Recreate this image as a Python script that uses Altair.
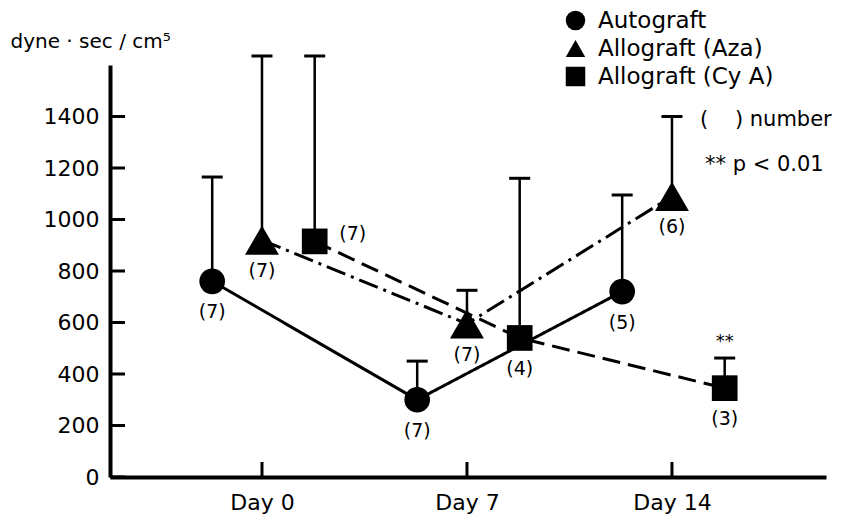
import altair as alt
import pandas as pd

# ---------------- data ----------------
day_ticks = [0, 7, 14]
day_labels = ["Day 0", "Day 7", "Day 14"]
groups = ["Autograft", "Allograft (Aza)", "Allograft (Cy A)"]

auto_mean = [760, 300, 720]
auto_upper = [1165, 450, 1095]
auto_n = ["(7)", "(7)", "(5)"]

aza_mean = [920, 595, 1090]
aza_upper = [1635, 725, 1400]
aza_n = ["(7)", "(7)", "(6)"]

cya_mean = [915, 540, 345]
cya_upper = [1635, 1160, 462]
cya_n = ["(7)", "(4)", "(3)"]

y_ticks = [0, 200, 400, 600, 800, 1000, 1200, 1400]

# horizontal shift of each group around the day tick (in day units)
group_shift = {"Autograft": -1.7, "Allograft (Aza)": 0.0, "Allograft (Cy A)": 1.8}
group_dash = {"Autograft": [1, 0], "Allograft (Aza)": [20, 6, 3, 6], "Allograft (Cy A)": [18, 8]}

rows = []
for g, means, uppers, ns in [
    ("Autograft", auto_mean, auto_upper, auto_n),
    ("Allograft (Aza)", aza_mean, aza_upper, aza_n),
    ("Allograft (Cy A)", cya_mean, cya_upper, cya_n),
]:
    for d, m, u, n in zip(day_ticks, means, uppers, ns):
        rows.append({"group": g, "day": d, "xpos": d + group_shift[g],
                     "mean": m, "upper": u, "n": n,
                     "side": "right" if (g == "Allograft (Cy A)" and d == 0) else "below"})
df = pd.DataFrame(rows)

tick_df = pd.DataFrame({"day": day_ticks})
ytick_df = pd.DataFrame({"v": y_ticks})
sig_df = df[(df.group == "Allograft (Cy A)") & (df.day == 14)].assign(star="**")

FONT = "DejaVu Sans"
W, H = 716, 412

xscale = alt.Scale(domain=[-5.19, 19.26], nice=False, zero=False)
yscale = alt.Scale(domain=[0, 1600], nice=False)

label_expr = "datum.value == 0 ? 'Day 0' : datum.value == 7 ? 'Day 7' : 'Day 14'"

x_axis = alt.Axis(values=day_ticks, labelExpr=label_expr, title=None,
                  ticks=False, tickSize=0, grid=False,
                  domainColor="black", domainWidth=4,
                  labelFont=FONT, labelFontSize=22, labelColor="black",
                  labelPadding=15)
y_axis = alt.Axis(values=y_ticks, format="d", ticks=False, tickSize=0,
                  grid=False, domainColor="black", domainWidth=4,
                  labelFont=FONT, labelFontSize=22, labelColor="black",
                  labelPadding=11,
                  title="dyne · sec / cm⁵", titleAngle=0,
                  titleAlign="left", titleBaseline="alphabetic",
                  titleX=-100, titleY=-18, titleFont=FONT,
                  titleFontSize=20, titleFontWeight="normal",
                  titleColor="black")

base = alt.Chart(df)

line_layers = []
for i, g in enumerate(groups):
    if i == 0:
        enc = dict(x=alt.X("xpos:Q", scale=xscale, axis=x_axis),
                   y=alt.Y("mean:Q", scale=yscale, axis=y_axis))
    else:
        enc = dict(x="xpos:Q", y="mean:Q")
    line_layers.append(
        base.mark_line(color="black", strokeWidth=3, strokeDash=group_dash[g])
        .encode(**enc)
        .transform_filter(alt.datum.group == g)
    )

err = base.mark_rule(color="black", strokeWidth=2.5).encode(
    x="xpos:Q", y="mean:Q", y2="upper:Q")

caps = base.mark_tick(color="black", opacity=1, orient="horizontal", size=21,
                      thickness=3).encode(x="xpos:Q", y="upper:Q")

points = base.mark_point(filled=True, opacity=1, color="black").encode(
    x="xpos:Q", y="mean:Q",
    shape=alt.Shape("group:N",
                    scale=alt.Scale(domain=groups,
                                    range=["circle", "triangle-up", "square"]),
                    legend=alt.Legend(title=None, orient="none", legendX=454,
                                      legendY=-56, labelFont=FONT, labelFontSize=23,
                                      labelColor="black", labelLimit=400,
                                      symbolSize=380,
                                      symbolFillColor="black", symbolStrokeColor="black",
                                      symbolStrokeWidth=0, rowPadding=4,
                                      labelOffset=11, padding=0)),
    size=alt.condition("datum.group == 'Allograft (Aza)'", alt.value(1150),
                       alt.value(660)),
)

labels_below = base.mark_text(font=FONT, fontSize=19, color="black", dy=31).encode(
    x="xpos:Q", y="mean:Q", text="n:N").transform_filter("datum.side == 'below'")

labels_right = base.mark_text(font=FONT, fontSize=19, color="black", dx=38, dy=-7).encode(
    x="xpos:Q", y="mean:Q", text="n:N").transform_filter("datum.side == 'right'")

stars = alt.Chart(sig_df).mark_text(font=FONT, fontSize=18, color="black", dy=-16).encode(
    x="xpos:Q", y="upper:Q", text="star:N")

xticks = alt.Chart(tick_df).mark_rule(color="black", strokeWidth=3).encode(
    x=alt.X("day:Q", scale=xscale), y=alt.value(H), y2=alt.value(H - 15))

yticks = alt.Chart(ytick_df).mark_rule(color="black", strokeWidth=3).encode(
    y=alt.Y("v:Q", scale=yscale), x=alt.value(0), x2=alt.value(15))

NB = "\u00a0"
note_df = pd.DataFrame({"t": ["(" + NB * 4 + ")" + NB + "number",
                              "**" + NB + "p" + NB + "<" + NB + "0.01"],
                        "k": [0, 1]})
notes1 = alt.Chart(note_df).mark_text(font=FONT, fontSize=21, color="black",
                                      align="left", baseline="middle").encode(
    text="t:N", x=alt.value(590), y=alt.value(55)).transform_filter("datum.k == 0")
notes2 = alt.Chart(note_df).mark_text(font=FONT, fontSize=21, color="black",
                                      align="left", baseline="middle").encode(
    text="t:N", x=alt.value(595), y=alt.value(100)).transform_filter("datum.k == 1")

chart = alt.layer(
    *line_layers, err, caps, points, labels_below, labels_right, stars,
    xticks, yticks, notes1, notes2
).properties(
    width=W, height=H,
    autosize=alt.AutoSizeParams(type="none"),
    padding={"left": 102, "top": 57, "right": 8, "bottom": 40},
).configure(background="white", view=alt.ViewConfig(stroke=None))

chart.save("out.html", embed_options={"renderer": "svg", "actions": False})
